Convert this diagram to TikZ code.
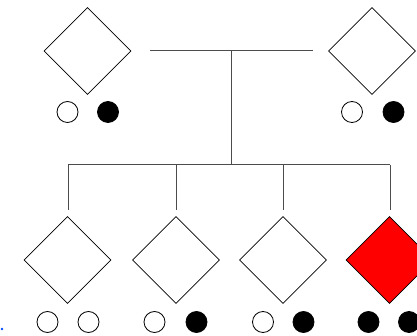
\documentclass[tikz,border=0pt]{standalone}
\usetikzlibrary{shapes.geometric}
\begin{document}
\begin{tikzpicture}[x=1pt,y=-1pt,
  person/.style={draw=black,line width=0.8pt,shape=diamond,aspect=1,inner sep=0pt,minimum size=87pt,fill=white},
  affected/.style={person,fill=red},
  allelewt/.style={draw=black,line width=0.8pt,circle,inner sep=0pt,minimum size=21pt,fill=white},
  allelemut/.style={draw=black,line width=0.8pt,circle,inner sep=0pt,minimum size=21pt,fill=black},
  link/.style={draw=black!70,line width=1pt}]
\useasboundingbox (0,0) rectangle (417,336);
\clip (0,0) rectangle (417,336);
% parents
\node[person] (p1) at (87.5,51) {};
\node[person] (p2) at (372,51) {};
\node[allelewt] (p1a) at (67.5,112) {};
\node[allelemut] (p1b) at (108,112) {};
\node[allelewt] (p2a) at (352,112) {};
\node[allelemut] (p2b) at (393.5,112) {};
% children
\node[person] (c1) at (67.5,260) {};
\node[person] (c2) at (176,260) {};
\node[person] (c3) at (283,260) {};
\node[affected] (c4) at (389.5,260) {};
\node[allelewt] (c1a) at (47.5,322) {};
\node[allelewt] (c1b) at (88.5,322) {};
\node[allelewt] (c2a) at (154.5,322) {};
\node[allelemut] (c2b) at (196.5,322) {};
\node[allelewt] (c3a) at (263,322) {};
\node[allelemut] (c3b) at (303.5,322) {};
\node[allelemut] (c4a) at (368.5,322) {};
\node[allelemut] (c4b) at (409,322) {};
% connectors
\coordinate (ml) at (150,51);
\coordinate (mr) at (313,51);
\coordinate (mm) at (231,51);
\coordinate (sb) at (231,165);
\coordinate (s1) at (68,165);
\coordinate (s2) at (176,165);
\coordinate (s3) at (283,165);
\coordinate (s4) at (390,165);
\coordinate (d1) at (68,210);
\coordinate (d2) at (176,210);
\coordinate (d3) at (283,210);
\coordinate (d4) at (390,210);
\draw[link] (ml) -- (mr);
\draw[link] (mm) -- (sb);
\draw[link] (s1) -- (s4);
\draw[link] (s1) -- (d1);
\draw[link] (s2) -- (d2);
\draw[link] (s3) -- (d3);
\draw[link] (s4) -- (d4);
% small blue mark
\fill[blue!70!cyan] (2,329) circle (1.3);
\end{tikzpicture}
\end{document}
